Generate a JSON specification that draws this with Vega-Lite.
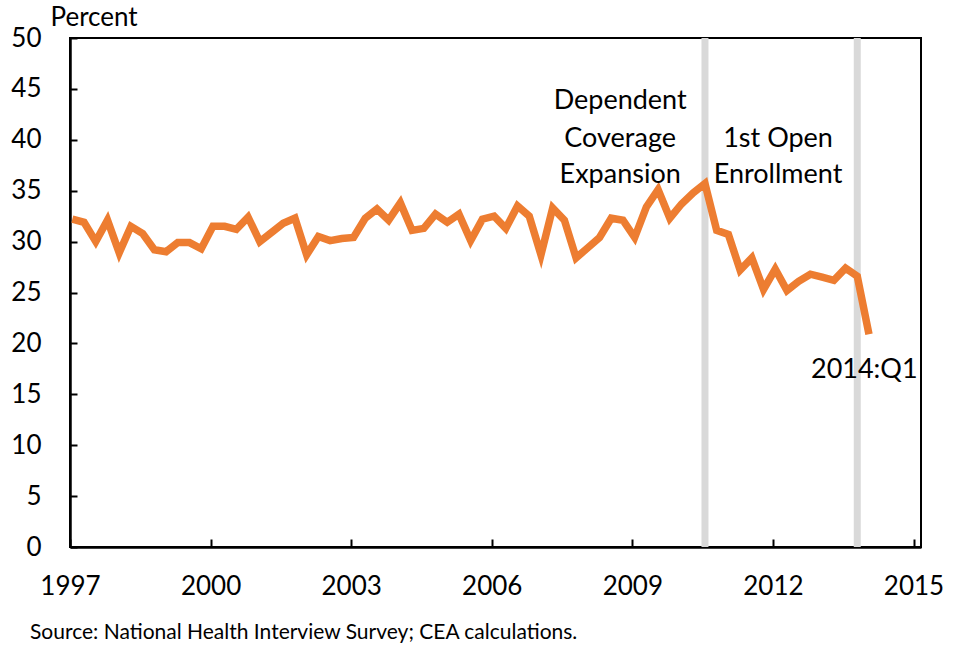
{
  "$schema": "https://vega.github.io/schema/vega-lite/v6.json",
  "width": 851,
  "height": 509,
  "autosize": "none",
  "padding": {"left": 70, "top": 38, "right": 36, "bottom": 103},
  "background": "white",
  "title": {
    "text": "Source: National Health Interview Survey; CEA calculations.",
    "orient": "bottom",
    "anchor": "start",
    "frame": "group",
    "dx": -40,
    "offset": 23,
    "font": "Lato",
    "fontSize": 21,
    "fontWeight": "normal",
    "color": "black"
  },
  "config": {
    "view": {"stroke": "black", "strokeWidth": 2},
    "axis": {
      "grid": false,
      "domainColor": "black",
      "domainWidth": 2.5,
      "tickColor": "black",
      "tickWidth": 2,
      "labelFont": "Lato",
      "labelFontSize": 26,
      "labelColor": "black",
      "titleFont": "Lato",
      "titleFontSize": 26,
      "titleFontWeight": "normal",
      "titleColor": "black"
    }
  },
  "datasets": {
    "series": [
      {"t": 1997.05, "v": 32.2}, {"t": 1997.30, "v": 31.9}, {"t": 1997.55, "v": 30.0}, {"t": 1997.80, "v": 32.1},
      {"t": 1998.05, "v": 28.9}, {"t": 1998.30, "v": 31.5}, {"t": 1998.55, "v": 30.8}, {"t": 1998.80, "v": 29.2},
      {"t": 1999.05, "v": 29.0}, {"t": 1999.30, "v": 29.9}, {"t": 1999.55, "v": 29.9}, {"t": 1999.80, "v": 29.3},
      {"t": 2000.05, "v": 31.5}, {"t": 2000.30, "v": 31.5}, {"t": 2000.55, "v": 31.2}, {"t": 2000.80, "v": 32.4},
      {"t": 2001.05, "v": 30.0}, {"t": 2001.30, "v": 30.9}, {"t": 2001.55, "v": 31.8}, {"t": 2001.80, "v": 32.3},
      {"t": 2002.05, "v": 28.7}, {"t": 2002.30, "v": 30.5}, {"t": 2002.55, "v": 30.1}, {"t": 2002.80, "v": 30.3},
      {"t": 2003.05, "v": 30.4}, {"t": 2003.30, "v": 32.3}, {"t": 2003.55, "v": 33.2}, {"t": 2003.80, "v": 32.1},
      {"t": 2004.05, "v": 33.8}, {"t": 2004.30, "v": 31.1}, {"t": 2004.55, "v": 31.3}, {"t": 2004.80, "v": 32.7},
      {"t": 2005.05, "v": 31.9}, {"t": 2005.30, "v": 32.7}, {"t": 2005.55, "v": 30.1}, {"t": 2005.80, "v": 32.2},
      {"t": 2006.05, "v": 32.5}, {"t": 2006.30, "v": 31.3}, {"t": 2006.55, "v": 33.5}, {"t": 2006.80, "v": 32.5},
      {"t": 2007.05, "v": 28.7}, {"t": 2007.30, "v": 33.3}, {"t": 2007.55, "v": 32.1}, {"t": 2007.80, "v": 28.4},
      {"t": 2008.05, "v": 29.4}, {"t": 2008.30, "v": 30.4}, {"t": 2008.55, "v": 32.3}, {"t": 2008.80, "v": 32.1},
      {"t": 2009.05, "v": 30.4}, {"t": 2009.30, "v": 33.4}, {"t": 2009.55, "v": 35.1}, {"t": 2009.80, "v": 32.3},
      {"t": 2010.05, "v": 33.7}, {"t": 2010.30, "v": 34.8}, {"t": 2010.55, "v": 35.7}, {"t": 2010.80, "v": 31.1},
      {"t": 2011.05, "v": 30.7}, {"t": 2011.30, "v": 27.2}, {"t": 2011.55, "v": 28.4}, {"t": 2011.80, "v": 25.3},
      {"t": 2012.05, "v": 27.3}, {"t": 2012.30, "v": 25.2}, {"t": 2012.55, "v": 26.1}, {"t": 2012.80, "v": 26.8},
      {"t": 2013.05, "v": 26.5}, {"t": 2013.30, "v": 26.2}, {"t": 2013.55, "v": 27.4}, {"t": 2013.80, "v": 26.6},
      {"t": 2014.05, "v": 20.9}
    ],
    "bands": [{"t": 2010.55}, {"t": 2013.80}],
    "notes": [
      {"t": 2008.74, "v": 43.8, "label": "Dependent"},
      {"t": 2008.74, "v": 40.1, "label": "Coverage"},
      {"t": 2008.74, "v": 36.5, "label": "Expansion"},
      {"t": 2012.11, "v": 40.1, "label": "1st Open"},
      {"t": 2012.11, "v": 36.5, "label": "Enrollment"},
      {"t": 2013.95, "v": 17.4, "label": "2014:Q1"}
    ]
  },
  "encoding": {
    "x": {
      "field": "t",
      "type": "quantitative",
      "scale": {"domain": [1997, 2015.16], "nice": false, "zero": false},
      "axis": {
        "title": null,
        "values": [1997, 2000, 2003, 2006, 2009, 2012, 2015],
        "format": "d",
        "tickSize": -8,
        "labelPadding": 34,
        "labelFlush": false
      }
    }
  },
  "layer": [
    {
      "data": {"name": "bands"},
      "mark": {"type": "rule", "color": "#d9d9d9", "strokeWidth": 7},
      "encoding": {}
    },
    {
      "data": {"name": "series"},
      "mark": {"type": "line", "color": "#ED7D31", "strokeWidth": 7.5},
      "encoding": {
        "y": {
          "field": "v",
          "type": "quantitative",
          "scale": {"domain": [0, 50], "nice": false},
          "axis": {
            "title": "Percent",
            "titleAngle": 0,
            "titleAlign": "left",
            "titleBaseline": "middle",
            "titleX": -20,
            "titleY": -21,
            "values": [0, 5, 10, 15, 20, 25, 30, 35, 40, 45, 50],
            "tickSize": -7,
            "labelPadding": 36
          }
        }
      }
    },
    {
      "data": {"name": "notes"},
      "mark": {"type": "text", "font": "Lato", "fontSize": 27, "color": "black", "align": "center", "baseline": "middle"},
      "encoding": {
        "y": {"field": "v", "type": "quantitative"},
        "text": {"field": "label"}
      }
    }
  ]
}
